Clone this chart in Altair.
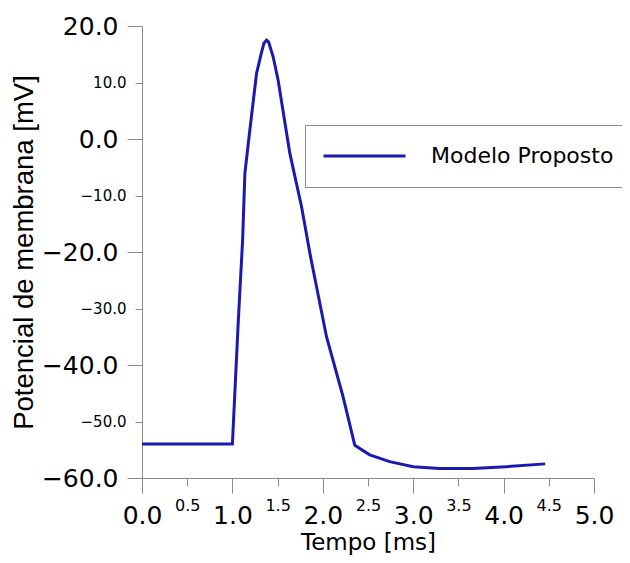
import altair as alt
import pandas as pd

# Data
tempo_ms = [0.0, 1.0, 1.064, 1.113, 1.138, 1.193, 1.267, 1.32, 1.35, 1.378, 1.40, 1.45,
            1.506, 1.635, 1.765, 1.864, 2.041, 2.224, 2.354, 2.519, 2.74, 3.0, 3.29,
            3.66, 4.03, 4.46]
potencial_mV = [-54.0, -54.0, -32.6, -17.9, -6.1, 1.6, 11.6, 15.2, 17.0, 17.5, 17.2, 14.6,
                10.4, -2.5, -12.0, -20.8, -35.0, -45.6, -54.2, -55.9, -57.1, -58.0, -58.3,
                -58.3, -58.0, -57.5]
serie = ["Modelo Proposto"] * len(tempo_ms)

x_ticks = [0.0, 0.5, 1.0, 1.5, 2.0, 2.5, 3.0, 3.5, 4.0, 4.5, 5.0]
y_ticks = [-60, -50, -40, -30, -20, -10, 0, 10, 20]

df = pd.DataFrame({"t": tempo_ms, "v": potencial_mV, "serie": serie})

FONT = "DejaVu Sans"
TITLE_FONT_Y = "Liberation Sans"
GRAY = "#8a8a8a"
BLUE = "#1a1ab0"

x_major = "datum.value % 1 === 0"
y_major = "datum.value % 20 === 0"

x_axis = alt.Axis(
    values=x_ticks, format=".1f", grid=False,
    domainColor=GRAY, tickColor=GRAY, domainWidth=1, tickWidth=1,
    tickSize={"condition": {"test": x_major, "value": 15}, "value": 8},
    labelFontSize={"condition": {"test": x_major, "value": 25}, "value": 16},
    labelPadding={"condition": {"test": x_major, "value": 10}, "value": 11},
    labelFont=FONT, labelColor="black", labelFlush=False, labelOverlap=False,
    title="Tempo [ms]", titleFont=FONT, titleFontSize=23, titleFontWeight="normal",
    titleColor="black", titleX=226, titleY=71, titleBaseline="alphabetic",
)
y_axis = alt.Axis(
    values=y_ticks, format=".1f", grid=False,
    domainColor=GRAY, tickColor=GRAY, domainWidth=1, tickWidth=1,
    tickSize={"condition": {"test": y_major, "value": 15}, "value": 7},
    labelFontSize={"condition": {"test": y_major, "value": 25}, "value": 15},
    labelPadding={"condition": {"test": y_major, "value": 9}, "value": 9},
    labelFont=FONT, labelColor="black", labelOverlap=False, labelFlush=False,
    title="Potencial de membrana [mV]", titleFont=TITLE_FONT_Y, titleFontSize=27.5,
    titleFontWeight="normal", titleColor="black",
    titleX=-110, titleY=226, titleBaseline="alphabetic",
)

legend = alt.Legend(
    title=None, orient="none", legendX=163, legendY=99,
    symbolType="stroke", symbolSize=6724, symbolStrokeWidth=3,
    labelFont=FONT, labelFontSize=22, labelColor="black", labelOffset=24,
    strokeColor=GRAY, fillColor="white", padding=17, clipHeight=28,
    labelLimit=400,
)

chart = alt.Chart(df).mark_line(strokeWidth=3).encode(
    x=alt.X("t:Q", scale=alt.Scale(domain=[0, 5], nice=False, zero=False), axis=x_axis),
    y=alt.Y("v:Q", scale=alt.Scale(domain=[-60, 20], nice=False, zero=False), axis=y_axis),
    color=alt.Color("serie:N", scale=alt.Scale(range=[BLUE]), legend=legend),
).properties(
    width=452, height=452,
    autosize=alt.AutoSizeParams(type="none"),
    padding={"left": 134, "top": 18, "right": 28, "bottom": 77},
).configure_view(stroke=None)

chart.save("out.html", embed_options={"renderer": "svg", "actions": False})
